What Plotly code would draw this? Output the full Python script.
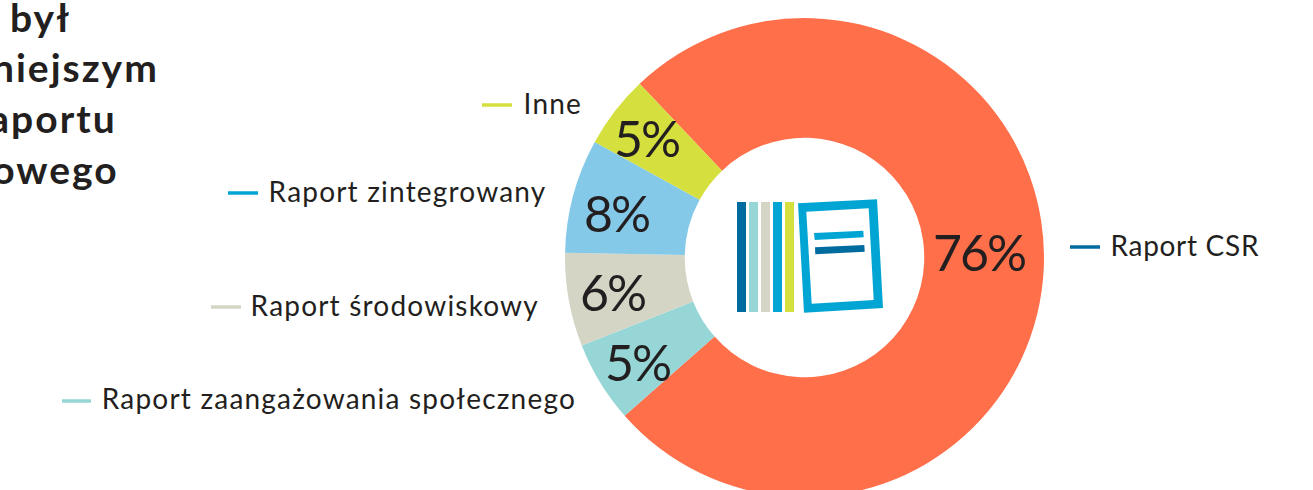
import plotly.graph_objects as go

W, H = 1313, 498

categories = ["Raport CSR", "Raport zaangażowania społecznego", "Raport środowiskowy", "Raport zintegrowany", "Inne"]
values = [75.6, 5.5, 6.3, 7.7, 4.9]
pct_labels = ["76%", "5%", "6%", "8%", "5%"]
slice_colors = ["#FF6F4A", "#96D6D6", "#D5D5C5", "#85C9E8", "#D5DF3D"]
line_colors = ["#006B9F", "#96D6D6", "#D5D5C5", "#00A5D3", "#D5DF3D"]
pct_pos = [(979, 252), (637, 362), (612, 292), (616, 213), (646, 138)]
label_pos = [(1184.5, 245), (338.5, 398), (395, 305), (407.5, 191), (552.5, 103)]
line_pos = [(1070, 1100, 247), (62, 91, 401), (211, 241, 307), (228, 258, 193), (482, 512, 105)]
title_lines = ["był", "niniejszym", "raportu", "pozafinansowego"]
title_pos = [(70, 17), (151, 67), (112, 118), (105, 169)]
icon_bar_colors = ["#006B9F", "#96D6D6", "#D5D5C5", "#00A5D3", "#D5DF3D"]
icon_bar_x = [737, 749, 761, 773, 785]

TEXT = "#231F20"
FONT = "Lato"


def px(x):
    return x / W


def py(y):
    return 1 - y / H


def poly(points, color):
    path = "M " + " L ".join(f"{px(x):.5f},{py(y):.5f}" for x, y in points) + " Z"
    return dict(type="path", xref="paper", yref="paper", path=path, fillcolor=color, line=dict(width=0))


fig = go.Figure(go.Pie(
    labels=categories, values=values, sort=False, direction="clockwise", rotation=-43.5,
    hole=0.5, textinfo="none", showlegend=False,
    marker=dict(colors=slice_colors, line=dict(width=0)),
    domain=dict(x=[(804.5 - 239.5) / W, (804.5 + 239.5) / W], y=[1 / H, 480 / H]),
))

shapes = []
for (x0, x1, y), c in zip(line_pos, line_colors):
    shapes.append(dict(type="line", xref="paper", yref="paper", x0=px(x0), x1=px(x1), y0=py(y), y1=py(y),
                       line=dict(color=c, width=3.5)))
for x, c in zip(icon_bar_x, icon_bar_colors):
    shapes.append(poly([(x, 202), (x + 9, 202), (x + 9, 312), (x, 312)], c))
shapes.append(poly([(798, 203.3), (877, 199.3), (883, 308), (804, 312.7)], "#00A5D3"))
shapes.append(poly([(806.3, 211.7), (868.7, 208.3), (873.7, 300), (811.7, 303.7)], "#FFFFFF"))
shapes.append(poly([(814, 233), (863.3, 230.7), (863.7, 237.3), (814.7, 240)], "#00A5D3"))
shapes.append(poly([(815, 247.3), (864.3, 245), (864.7, 251.7), (815.3, 254.3)], "#006B9F"))

ann = []
for t, (x, y) in zip(pct_labels, pct_pos):
    ann.append(dict(text=t, xref="paper", yref="paper", x=px(x), y=py(y), xanchor="center", yanchor="middle",
                    showarrow=False, font=dict(family=FONT, size=50, color=TEXT, weight=400)))
for t, (x, y) in zip(categories, label_pos):
    ann.append(dict(text=t, xref="paper", yref="paper", x=px(x), y=py(y), xanchor="center", yanchor="middle",
                    showarrow=False, font=dict(family=FONT, size=28, color=TEXT)))
for t, (x, y) in zip(title_lines, title_pos):
    ann.append(dict(text=t, xref="paper", yref="paper", x=px(x), y=py(y), xanchor="right", yanchor="middle",
                    showarrow=False, font=dict(family=FONT, size=39, color=TEXT, weight=700)))

fig.update_layout(width=W, height=H, margin=dict(l=0, r=0, t=0, b=0), paper_bgcolor="white",
                  shapes=shapes, annotations=ann)

spacing_js = """
document.documentElement.style.overflow='hidden';
document.body.style.overflow='hidden';
document.body.style.margin='0';
document.querySelectorAll('.annotation-text').forEach(function(t){
  var s = parseFloat(t.style.fontSize);
  var sp = s >= 45 ? '-2px' : (s >= 35 ? '2px' : '1.2px');
  if (t.textContent === 'Raport CSR') sp = '0.7px';
  t.style.letterSpacing = sp;
});
"""
fig.write_html("out.html", post_script=spacing_js, config={"displayModeBar": False})
